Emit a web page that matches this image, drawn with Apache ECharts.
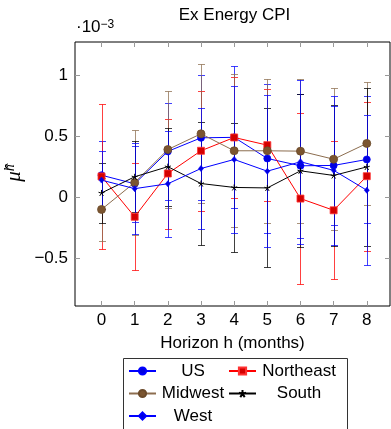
<!DOCTYPE html>
<html><head><meta charset="utf-8">
<script src="https://cdn.jsdelivr.net/npm/echarts@6/dist/echarts.min.js"></script>
<style>html,body{margin:0;padding:0;background:#fff}#c{width:391px;height:429px}</style>
</head><body><div id="c"></div>
<script>
// ---- data (values in units of 1e-3) ----
const horizons = [0, 1, 2, 3, 4, 5, 6, 7, 8];
const xTicks = [0, 1, 2, 3, 4, 5, 6, 7, 8];
const yTicks = [-0.5, 0, 0.5, 1];

const usMean = [0.18, 0.11, 0.375, 0.486, 0.49, 0.317, 0.257, 0.26, 0.309];
const usErr  = [0.28, 0.31, 0.40, 0.51, 0.58, 0.61, 0.59, 0.49, 0.52];

const northeastMean = [0.17, -0.16, 0.194, 0.38, 0.489, 0.426, -0.011, -0.107, 0.172];
const northeastErr  = [0.59, 0.437, 0.45, 0.49, 0.497, 0.457, 0.697, 0.566, 0.61];

const midwestMean = [-0.10, 0.12, 0.39, 0.519, 0.38, 0.38, 0.377, 0.311, 0.44];
const midwestErr  = [0.26, 0.43, 0.476, 0.57, 0.626, 0.587, 0.587, 0.58, 0.50];

const southMean = [0.035, 0.167, 0.25, 0.112, 0.08, 0.076, 0.216, 0.178, 0.248];
const southErr  = [0.245, 0.29, 0.32, 0.505, 0.53, 0.65, 0.626, 0.574, 0.643];

const westMean = [0.14, 0.07, 0.11, 0.235, 0.309, 0.213, 0.29, 0.22, 0.057];
const westErr  = [0.237, 0.37, 0.435, 0.497, 0.60, 0.62, 0.67, 0.607, 0.615];

const seriesNames = ['US', 'Northeast', 'Midwest', 'South', 'West'];

// ---- styling ----
const FONT = 'Liberation Sans, Arial, Helvetica, sans-serif';
const SERIF = 'Liberation Serif, DejaVu Serif, serif';
const STAR = 'path://M0,-10L0,0M9.51,-3.09L0,0M5.88,8.09L0,0M-5.88,8.09L0,0M-9.51,-3.09L0,0';
const styles = {
  US:        {line: '#0000ff', fill: '#0000e0', border: '#0000ff', symbol: 'circle', size: 7, bw: 0.8},
  Northeast: {line: '#ff0000', fill: '#d40000', border: '#ff3333', symbol: 'rect', size: 7, bw: 0.8},
  Midwest:   {line: '#8c6d4f', fill: '#7b5530', border: '#6b4a2a', symbol: 'circle', size: 8, bw: 0.8},
  South:     {line: '#000000', fill: '#000000', border: '#000000', symbol: STAR, size: 6, bw: 1},
  West:      {line: '#0000ff', fill: '#0000e0', border: '#0000ff', symbol: 'diamond', size: [5, 6], bw: 0.6}
};
const means = {US: usMean, Northeast: northeastMean, Midwest: midwestMean, South: southMean, West: westMean};
const errs  = {US: usErr, Northeast: northeastErr, Midwest: midwestErr, South: southErr, West: westErr};

function errRender(color) {
  return function (params, api) {
    const x = api.value(0), lo = api.value(1), hi = api.value(2);
    const pLo = api.coord([x, lo]), pHi = api.coord([x, hi]);
    const px = Math.round(pLo[0]) + 0.5;
    const yLo = Math.round(pLo[1]) + 0.5, yHi = Math.round(pHi[1]) + 0.5;
    const w = 3.5;
    const st = {stroke: color, lineWidth: 1, opacity: 0.75};
    return {type: 'group', children: [
      {type: 'line', shape: {x1: px, y1: yLo, x2: px, y2: yHi}, style: st},
      {type: 'line', shape: {x1: px - w, y1: yLo, x2: px + w, y2: yLo}, style: st},
      {type: 'line', shape: {x1: px - w, y1: yHi, x2: px + w, y2: yHi}, style: st}
    ]};
  };
}

const series = [];
seriesNames.forEach(function (name) {
  const s = styles[name];
  const m = means[name], e = errs[name];
  series.push({
    type: 'custom', name: name + ' err', z: 2, silent: true,
    renderItem: errRender(s.line),
    encode: {x: 0, y: [1, 2]},
    data: horizons.map(function (h, i) { return [h, m[i] - e[i], m[i] + e[i]]; })
  });
});
seriesNames.forEach(function (name) {
  const s = styles[name];
  const m = means[name];
  series.push({
    type: 'line', name: name, z: 3,
    data: horizons.map(function (h, i) { return [h, m[i]]; }),
    symbol: s.symbol, symbolSize: s.size, showAllSymbol: true,
    lineStyle: {color: s.line, width: 1},
    itemStyle: {color: s.fill, borderColor: s.border, borderWidth: s.bw, opacity: 1},
    animation: false
  });
});

function legendEntry(name, left, rowCenter, w) {
  return {
    data: [name], left: left, top: rowCenter - 10, padding: 0, z: 10,
    itemWidth: 27, itemHeight: 9, selectedMode: false,
    formatter: function (n) { return '{t|' + n + '}'; },
    textStyle: {rich: {t: {width: w, align: 'center', fontSize: 17, lineHeight: 20, fontFamily: FONT, color: '#000'}}}
  };
}

const yFmt = function (v) { return v < 0 ? '\u2212' + (-v) : String(v); };
const tickStyle = {color: '#999', width: 1};

const option = {
  animation: false,
  backgroundColor: '#fff',
  title: {
    text: 'Ex Energy CPI', left: 234.5, top: 7, textAlign: 'center', padding: 0,
    textStyle: {fontSize: 17, fontWeight: 'normal', fontFamily: FONT, color: '#000'}
  },
  grid: {left: 75, right: 1, top: 42, bottom: 123, show: true, borderColor: '#000', borderWidth: 1, backgroundColor: 'transparent'},
  xAxis: [
    {type: 'value', position: 'bottom', min: -0.8, max: 8.7,
     name: 'Horizon h (months)', nameLocation: 'middle', nameGap: 29,
     nameTextStyle: {fontSize: 17, fontFamily: FONT, color: '#000'},
     axisLine: {show: false, onZero: false}, splitLine: {show: false},
     axisTick: {show: true, inside: true, length: 5, customValues: xTicks, lineStyle: tickStyle},
     axisLabel: {customValues: xTicks, fontSize: 17, fontFamily: FONT, color: '#000', margin: 6}},
    {type: 'value', position: 'top', min: -0.8, max: 8.7,
     axisLine: {show: false, onZero: false}, splitLine: {show: false},
     axisTick: {show: true, inside: true, length: 5, customValues: xTicks, lineStyle: tickStyle},
     axisLabel: {show: false}}
  ],
  yAxis: [
    {type: 'value', position: 'left', min: -0.89, max: 1.27,
     axisLine: {show: false, onZero: false}, splitLine: {show: false},
     axisTick: {show: true, inside: true, length: 5, customValues: yTicks, lineStyle: tickStyle},
     axisLabel: {customValues: yTicks, formatter: yFmt, fontSize: 17, fontFamily: FONT, color: '#000', margin: 7}},
    {type: 'value', position: 'right', min: -0.89, max: 1.27,
     axisLine: {show: false, onZero: false}, splitLine: {show: false},
     axisTick: {show: true, inside: true, length: 5, customValues: yTicks, lineStyle: tickStyle},
     axisLabel: {show: false}}
  ],
  legend: [
    legendEntry('US', 128, 372.5, 64),
    legendEntry('Northeast', 228, 372.5, 76),
    legendEntry('Midwest', 128, 395, 64),
    legendEntry('South', 228, 395, 76),
    legendEntry('West', 128, 417.5, 64)
  ],
  graphic: [
    {type: 'rect', z: 1, shape: {x: 123.5, y: 358.5, width: 224, height: 90},
     style: {fill: '#fff', stroke: '#333', lineWidth: 1}},
    {type: 'text', z: 5, left: 76, top: 19,
     style: {text: '\u00b710{s|\u22123}', font: '17px ' + FONT, fill: '#000',
             rich: {s: {fontSize: 12, fontFamily: FONT, verticalAlign: 'top', fill: '#000'}}}},
    {type: 'text', z: 5, x: 14, y: 173, rotation: Math.PI / 2,
     style: {text: '{m|\u03bc\u0302}{h|h}', textAlign: 'center', textVerticalAlign: 'middle',
             rich: {m: {fontSize: 21, fontStyle: 'italic', fontFamily: SERIF, fill: '#000', verticalAlign: 'bottom', lineHeight: 22},
                    h: {fontSize: 14, fontStyle: 'italic', fontFamily: SERIF, fill: '#000', verticalAlign: 'top', lineHeight: 22}}}}
  ],
  series: series
};

const chart = echarts.init(document.getElementById('c'), null, {renderer: 'canvas'});
chart.setOption(option);
</script>
</body></html>
